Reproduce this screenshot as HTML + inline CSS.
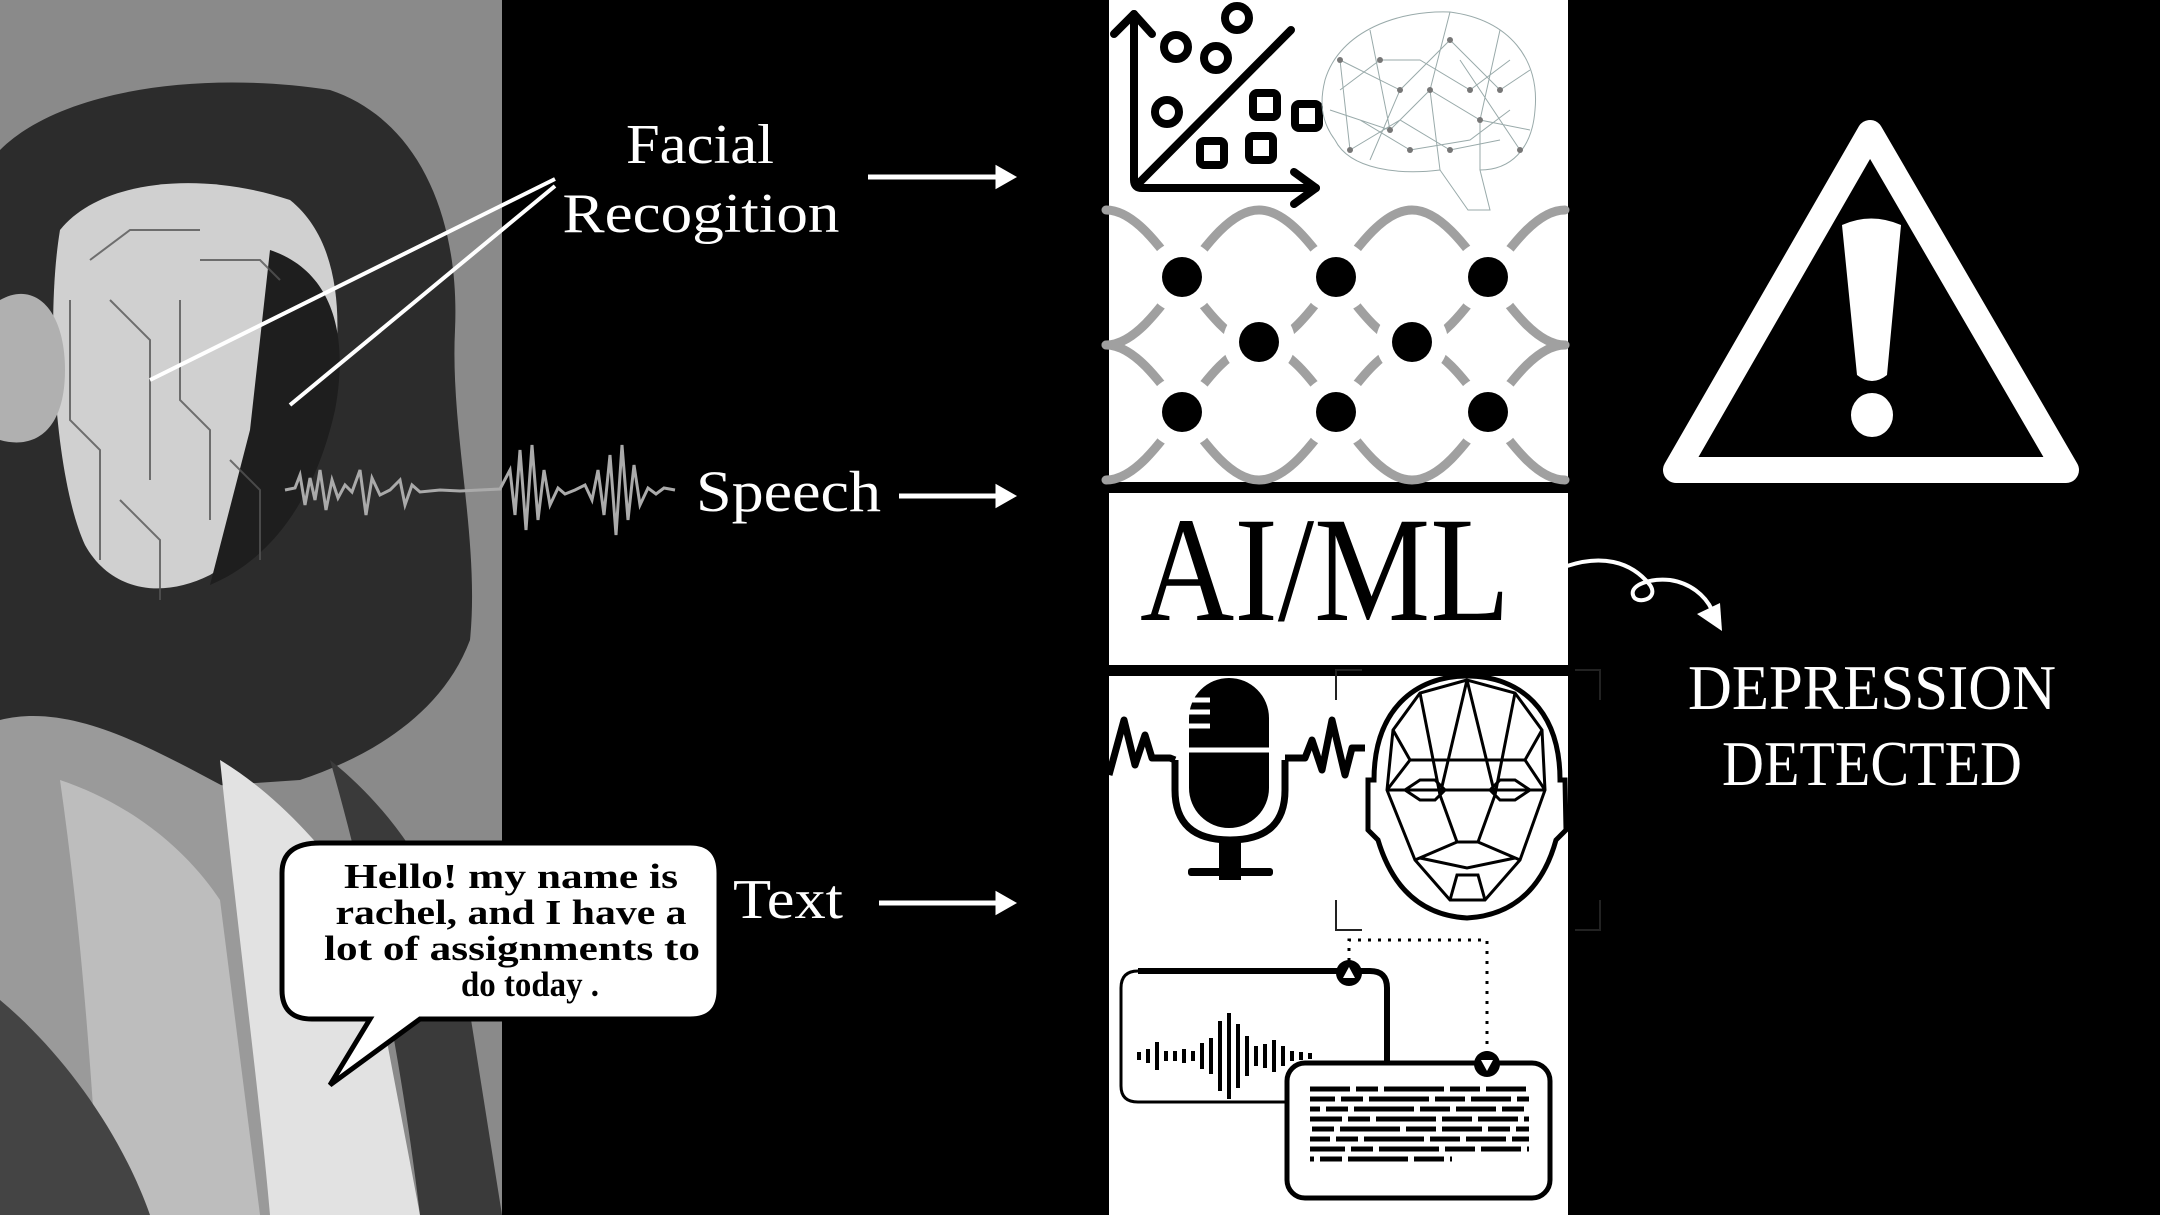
<!DOCTYPE html>
<html><head><meta charset="utf-8"><style>
html,body{margin:0;padding:0;background:#000;width:2160px;height:1215px;overflow:hidden}
svg{display:block}
</style></head><body>
<svg width="2160" height="1215" viewBox="0 0 2160 1215" xmlns="http://www.w3.org/2000/svg">
<rect width="2160" height="1215" fill="#000"/>
<!-- photo panel -->
<rect x="0" y="0" width="502" height="1215" fill="#8a8a8a"/>
<path d="M0 150 C60 90 200 70 330 90 C420 120 460 220 455 330 C450 430 480 540 470 640 C440 720 360 760 300 780 L0 800 Z" fill="#2c2c2c"/>
<path d="M60 230 C100 180 200 170 290 200 C340 240 345 320 330 400 C310 480 270 540 210 575 C160 600 110 590 85 545 C55 480 45 320 60 230Z" fill="#d0d0d0"/>
<path d="M270 250 C330 270 350 330 335 410 C315 500 270 560 210 585 L250 430 Z" fill="#1e1e1e"/>
<path d="M0 300 C35 280 65 310 65 370 C65 430 35 450 0 440Z" fill="#b0b0b0"/>
<path d="M0 720 C80 700 170 760 250 800 C310 830 340 900 330 1000 L300 1215 L0 1215Z" fill="#9a9a9a"/>
<path d="M60 780 C120 800 180 840 220 900 L260 1215 L100 1215 C90 1050 80 920 60 780Z" fill="#bdbdbd"/>
<path d="M220 760 C270 790 320 840 360 900 L420 1215 L270 1215 C260 1100 240 950 220 760Z" fill="#e2e2e2"/>
<path d="M330 760 C380 800 430 860 460 950 L502 1215 L420 1215 C400 1050 370 900 330 760Z" fill="#3a3a3a"/>
<path d="M0 1000 C60 1050 120 1130 150 1215 L0 1215Z" fill="#444"/>
<g stroke="#555" stroke-width="2" fill="none" opacity="0.8">
<path d="M70 300 L70 420 L100 450 L100 560"/><path d="M90 260 L130 230 L200 230"/><path d="M110 300 L150 340 L150 480"/><path d="M180 300 L180 400 L210 430 L210 520"/><path d="M120 500 L160 540 L160 600"/><path d="M200 260 L260 260 L280 280"/><path d="M230 460 L260 490 L260 560"/>
</g>
<!-- pointer lines -->
<line x1="555" y1="179" x2="150" y2="380" stroke="#fff" stroke-width="4"/>
<line x1="555" y1="186" x2="290" y2="405" stroke="#fff" stroke-width="4"/>
<!-- speech waveform -->
<polyline fill="none" stroke="#aaa" stroke-width="3" points="285,490 295,488 300,475 305,505 310,478 315,500 320,470 326,510 332,480 338,498 345,485 352,492 360,470 366,515 372,478 380,495 390,490 400,480 405,505 412,485 420,492 440,490 460,491 480,490 500,489 510,470 515,515 520,450 526,530 532,445 538,520 544,470 550,505 558,488 565,494 575,490 585,485 592,500 598,470 604,515 610,455 616,535 622,445 628,520 634,465 640,505 648,488 656,494 664,488 675,490"/>
<!-- text labels -->
<g fill="#fff" font-family="'Liberation Serif',serif">
<text x="700" y="163" font-size="56" text-anchor="middle" textLength="148" lengthAdjust="spacingAndGlyphs">Facial</text>
<text x="701" y="232" font-size="56" text-anchor="middle" textLength="277" lengthAdjust="spacingAndGlyphs">Recogition</text>
<text x="696" y="511" font-size="58" textLength="185" lengthAdjust="spacingAndGlyphs">Speech</text>
<text x="733" y="918" font-size="56" textLength="110" lengthAdjust="spacingAndGlyphs">Text</text>
<text x="1872" y="709" font-size="64" text-anchor="middle" textLength="368" lengthAdjust="spacingAndGlyphs">DEPRESSION</text>
<text x="1872" y="785" font-size="64" text-anchor="middle" textLength="300" lengthAdjust="spacingAndGlyphs">DETECTED</text>
</g>
<!-- arrows -->
<g stroke="#fff" stroke-width="5" fill="#fff">
<line x1="868" y1="177" x2="1000" y2="177"/><path d="M998 169 L1012 177 L998 185Z"/>
<line x1="899" y1="496" x2="1000" y2="496"/><path d="M998 488 L1012 496 L998 504Z"/>
<line x1="879" y1="903" x2="1000" y2="903"/><path d="M998 895 L1012 903 L998 911Z"/>
</g>
<!-- speech bubble -->
<path d="M320 843 L690 843 Q719 843 719 873 L719 990 Q719 1019 690 1019 L420 1019 L330 1085 L370 1019 L312 1019 Q282 1019 282 990 L282 873 Q282 843 320 843Z" fill="#fff" stroke="#000" stroke-width="5"/>
<g font-family="'Liberation Serif',serif" font-weight="bold" font-size="35" text-anchor="middle" fill="#000">
<text x="511" y="888" textLength="334" lengthAdjust="spacingAndGlyphs">Hello! my name is</text>
<text x="511" y="924" textLength="351" lengthAdjust="spacingAndGlyphs">rachel, and I have a</text>
<text x="512" y="960" textLength="376" lengthAdjust="spacingAndGlyphs">lot of assignments to</text>
<text x="530" y="996" textLength="138" lengthAdjust="spacingAndGlyphs">do today .</text>
</g>
<!-- white column -->
<rect x="1109" y="0" width="459" height="1215" fill="#fff"/>
<rect x="1109" y="482" width="459" height="11" fill="#000"/>
<rect x="1109" y="665" width="459" height="11" fill="#000"/>
<!-- graph -->
<g stroke="#000" stroke-width="8" fill="none" stroke-linecap="round" stroke-linejoin="round">
<path d="M1134 14 L1134 180 Q1134 188 1142 188 L1316 188"/>
<path d="M1114 34 L1134 14 L1152 34"/><path d="M1294 172 L1316 188 L1294 204"/>
<line x1="1140" y1="182" x2="1291" y2="30"/>
<circle cx="1176" cy="47" r="12"/><circle cx="1216" cy="58" r="12"/><circle cx="1237" cy="18" r="12"/><circle cx="1167" cy="112" r="12"/>
<rect x="1253" y="93" width="24" height="24" rx="4"/><rect x="1295" y="104" width="24" height="24" rx="4"/><rect x="1200" y="141" width="24" height="24" rx="4"/><rect x="1249" y="136" width="24" height="24" rx="4"/>
</g>
<!-- brain mesh -->
<g stroke="#9aa" stroke-width="1" fill="none">
<path d="M1325 80 C1340 30 1400 10 1450 12 C1510 20 1540 60 1535 110 C1532 150 1510 170 1480 170 L1490 210 L1468 210 L1440 170 C1400 175 1350 170 1335 140 C1320 120 1320 100 1325 80Z"/>
<path d="M1340 60 L1400 90 L1450 40 L1500 90 L1530 70 M1330 110 L1390 130 L1430 90 L1480 120 L1530 130 M1350 150 L1400 120 L1450 150 L1500 140 M1370 30 L1390 130 M1450 12 L1430 90 L1440 170 M1500 30 L1480 120 L1480 170 M1340 60 L1350 150 M1400 90 L1370 160 M1460 60 L1520 150 M1340 90 L1380 60 L1420 60 L1470 90 L1510 60 M1360 120 L1410 150 L1470 140 L1510 110"/>
</g>
<g fill="#777"><circle cx="1400" cy="90" r="3"/><circle cx="1450" cy="40" r="3"/><circle cx="1500" cy="90" r="3"/><circle cx="1430" cy="90" r="3"/><circle cx="1480" cy="120" r="3"/><circle cx="1390" cy="130" r="3"/><circle cx="1450" cy="150" r="3"/><circle cx="1350" cy="150" r="3"/><circle cx="1340" cy="60" r="3"/><circle cx="1520" cy="150" r="3"/><circle cx="1380" cy="60" r="3"/><circle cx="1470" cy="90" r="3"/><circle cx="1410" cy="150" r="3"/></g>
<!-- network waves -->
<g stroke="#a0a0a0" stroke-width="9" fill="none" stroke-linecap="round">
<path d="M1106 345 C1161 345 1204 210 1259 210 C1314 210 1357 345 1412 345 C1467 345 1510 210 1565 210"/>
<path d="M1106 210 C1161 210 1204 345 1259 345 C1314 345 1357 210 1412 210 C1467 210 1510 345 1565 345"/>
<path d="M1106 345 C1161 345 1204 480 1259 480 C1314 480 1357 345 1412 345 C1467 345 1510 480 1565 480"/>
<path d="M1106 480 C1161 480 1204 345 1259 345 C1314 345 1357 480 1412 480 C1467 480 1510 345 1565 345"/>
</g>
<g fill="#fff"><circle cx="1182" cy="277" r="36"/><circle cx="1336" cy="277" r="36"/><circle cx="1488" cy="277" r="36"/><circle cx="1259" cy="342" r="36"/><circle cx="1412" cy="342" r="36"/><circle cx="1182" cy="412" r="36"/><circle cx="1336" cy="412" r="36"/><circle cx="1488" cy="412" r="36"/></g>
<g fill="#000"><circle cx="1182" cy="277" r="20"/><circle cx="1336" cy="277" r="20"/><circle cx="1488" cy="277" r="20"/><circle cx="1259" cy="342" r="20"/><circle cx="1412" cy="342" r="20"/><circle cx="1182" cy="412" r="20"/><circle cx="1336" cy="412" r="20"/><circle cx="1488" cy="412" r="20"/></g>
<!-- AI/ML -->
<text x="1325" y="620" font-family="'Liberation Serif',serif" font-size="150" text-anchor="middle" fill="#000" textLength="370" lengthAdjust="spacingAndGlyphs">AI/ML</text>
<!-- mic -->
<g fill="none" stroke="#000" stroke-width="7" stroke-linejoin="round">
<polyline points="1109,775 1124,720 1135,765 1145,735 1152,758 1170,758 1175,760"/>
<path d="M1175 760 L1175 790 Q1175 840 1230 840 Q1285 840 1285 790 L1285 760"/>
<polyline points="1285,758 1305,758 1312,740 1322,770 1332,720 1345,775 1352,748 1365,748"/>
</g>
<rect x="1189" y="678" width="80" height="150" rx="40" fill="#000"/>
<g stroke="#fff" stroke-width="5"><line x1="1189" y1="700" x2="1210" y2="700"/><line x1="1189" y1="712" x2="1210" y2="712"/><line x1="1189" y1="726" x2="1210" y2="726"/><line x1="1189" y1="750" x2="1269" y2="750"/></g>
<rect x="1219" y="840" width="22" height="40" fill="#000"/>
<rect x="1188" y="868" width="85" height="8" rx="3" fill="#000"/>
<!-- face -->
<g fill="none" stroke="#000" stroke-width="3">
<path d="M1467 676 C1520 676 1560 710 1560 780 L1565 780 L1566 830 L1556 840 C1545 880 1520 915 1467 918 C1415 915 1390 880 1378 840 L1368 830 L1368 780 L1374 780 C1374 710 1415 676 1467 676Z" stroke-width="5"/>
<path d="M1467 680 L1420 693 L1393 730 L1387 790 L1415 860 L1450 900 L1485 900 L1520 860 L1545 790 L1542 730 L1515 693 Z"/>
<path d="M1467 680 L1440 795 M1467 680 L1495 795 M1420 693 L1440 795 M1515 693 L1495 795 M1393 730 L1410 760 L1525 760 L1542 730 M1387 790 L1410 760 M1545 790 L1525 760 M1387 790 L1545 790 M1415 860 L1457 842 L1478 842 L1520 860 M1440 795 L1457 842 M1495 795 L1478 842 M1420 858 L1467 868 L1515 858 M1450 900 L1457 875 L1478 875 L1485 900"/>
<path d="M1405 790 L1420 780 L1435 780 L1445 790 L1435 800 L1420 800Z M1490 790 L1500 780 L1515 780 L1530 790 L1515 800 L1500 800Z"/>
</g>
<g stroke="#222" stroke-width="2" fill="none"><path d="M1336 700 L1336 670 L1362 670"/><path d="M1336 900 L1336 930 L1362 930"/><path d="M1575 670 L1600 670 L1600 700"/><path d="M1575 930 L1600 930 L1600 900"/></g>
<!-- dotted connectors -->
<g stroke="#000" stroke-width="3" stroke-dasharray="3 7" fill="none"><path d="M1349 971 L1349 940 L1487 940 L1487 1058"/></g>
<!-- wave box -->
<path d="M1138 971 L1370 971 Q1387 971 1387 988 L1387 1063" fill="none" stroke="#000" stroke-width="6"/>
<path d="M1138 971 Q1121 971 1121 988 L1121 1086 Q1121 1102 1138 1102 L1287 1102" fill="none" stroke="#000" stroke-width="3"/>
<circle cx="1349" cy="973" r="13" fill="#000"/><path d="M1343 978 L1349 967 L1355 978Z" fill="#fff"/>
<g stroke="#000" stroke-width="4" transform="translate(0,16)">
<line x1="1139" y1="1036" x2="1139" y2="1044"/><line x1="1148" y1="1033" x2="1148" y2="1047"/><line x1="1157" y1="1026" x2="1157" y2="1054"/><line x1="1166" y1="1035" x2="1166" y2="1045"/><line x1="1175" y1="1035" x2="1175" y2="1045"/><line x1="1184" y1="1033" x2="1184" y2="1047"/><line x1="1193" y1="1035" x2="1193" y2="1045"/><line x1="1202" y1="1027" x2="1202" y2="1053"/><line x1="1211" y1="1022" x2="1211" y2="1058"/><line x1="1220" y1="1005" x2="1220" y2="1075"/><line x1="1229" y1="997" x2="1229" y2="1083"/><line x1="1238" y1="1008" x2="1238" y2="1072"/><line x1="1247" y1="1020" x2="1247" y2="1060"/><line x1="1256" y1="1030" x2="1256" y2="1050"/><line x1="1265" y1="1028" x2="1265" y2="1052"/><line x1="1274" y1="1024" x2="1274" y2="1056"/><line x1="1283" y1="1030" x2="1283" y2="1050"/><line x1="1292" y1="1035" x2="1292" y2="1045"/><line x1="1301" y1="1036" x2="1301" y2="1044"/><line x1="1310" y1="1037" x2="1310" y2="1043"/>
</g>
<!-- text box -->
<rect x="1287" y="1063" width="263" height="135" rx="18" fill="#fff" stroke="#000" stroke-width="5"/>
<circle cx="1487" cy="1064" r="13" fill="#000"/><path d="M1481 1060 L1493 1060 L1487 1071Z" fill="#fff"/>
<g stroke="#000" stroke-width="5" stroke-dasharray="40 6 22 6 60 6 30 6" transform="translate(0,20)">
<line x1="1310" y1="1069" x2="1529" y2="1069"/><line x1="1310" y1="1079" x2="1529" y2="1079" stroke-dashoffset="15"/><line x1="1310" y1="1089" x2="1529" y2="1089" stroke-dashoffset="30"/><line x1="1310" y1="1099" x2="1529" y2="1099" stroke-dashoffset="8"/><line x1="1310" y1="1109" x2="1529" y2="1109" stroke-dashoffset="44"/><line x1="1310" y1="1119" x2="1529" y2="1119" stroke-dashoffset="20"/><line x1="1310" y1="1129" x2="1529" y2="1129" stroke-dashoffset="5"/><line x1="1310" y1="1139" x2="1452" y2="1139" stroke-dashoffset="36"/>
</g>
<!-- curvy arrow -->
<path d="M1567 566 C1600 555 1630 560 1650 585 C1660 600 1635 605 1633 595 C1630 585 1650 578 1670 580 C1690 583 1705 595 1712 610" fill="none" stroke="#fff" stroke-width="4"/>
<path d="M1697 614 L1722 631 L1720 603Z" fill="#fff"/>
<!-- warning -->
<path d="M1870 133 L1676 470 L2066 470 Z" fill="none" stroke="#fff" stroke-width="26" stroke-linejoin="round"/>
<path d="M1842 225 Q1871 212 1901 225 L1887 375 Q1872 387 1857 375 Z" fill="#fff"/>
<ellipse cx="1872" cy="415" rx="21" ry="22" fill="#fff"/>
</svg>
</body></html>
